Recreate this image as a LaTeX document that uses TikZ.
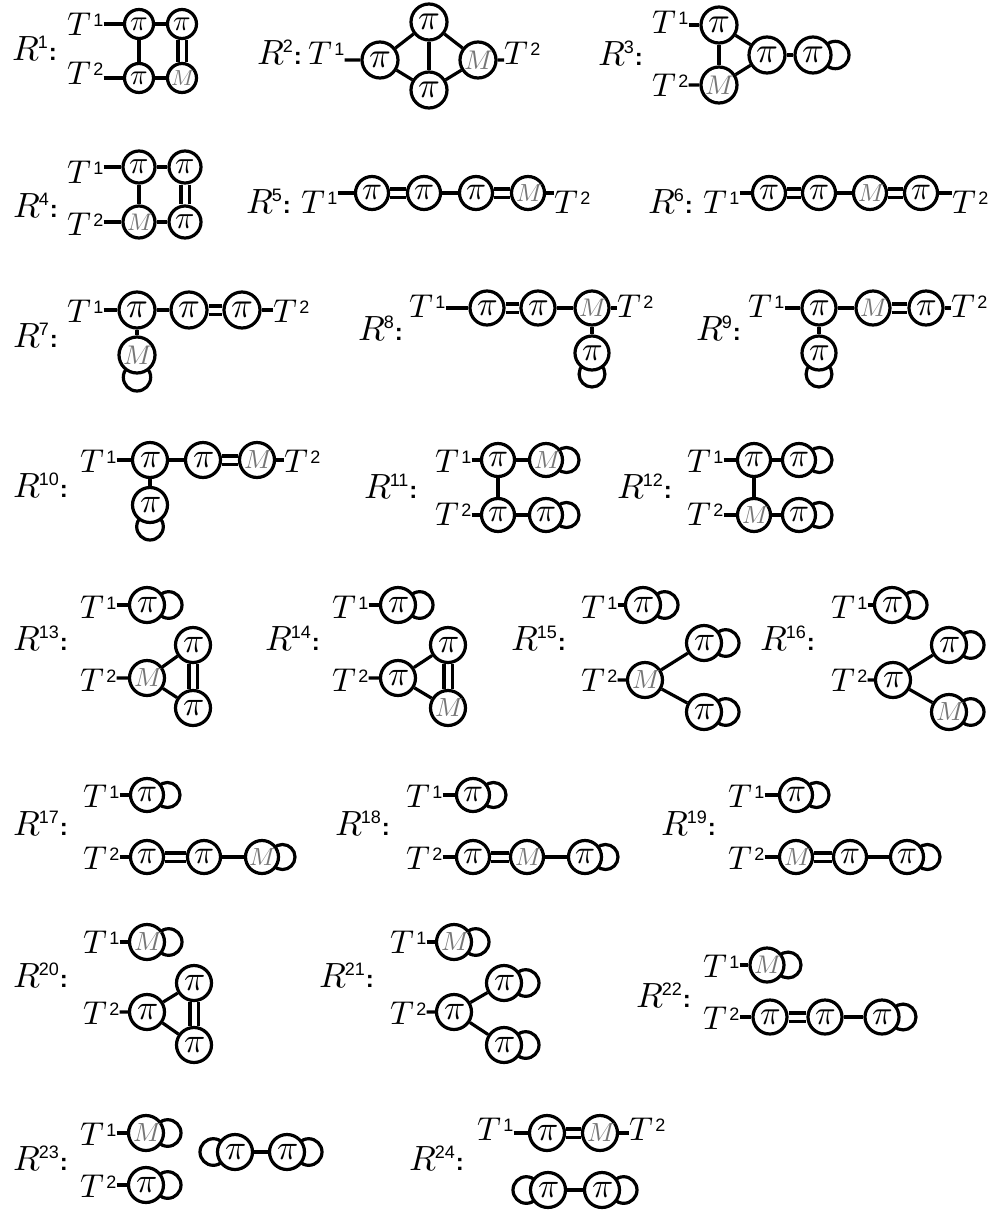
\documentclass[tikz,border=0pt]{standalone}
\usepackage{fontspec}
\setsansfont{Liberation Sans}
\newfontfamily\lmm{latinmodern-math.otf}
\usetikzlibrary{backgrounds}
\definecolor{mgray}{HTML}{767676}

\newcommand\rlab[1]{{\lmm 𝑅}\kern-1pt\raisebox{12pt}{\fontsize{18}{18}\sffamily #1}%
  \kern1pt{\fontsize{24}{24}\sffamily\bfseries :}}
\newcommand\tlab[1]{{\lmm 𝑇}\kern7pt\raisebox{9pt}{\fontsize{18}{18}\sffamily #1}}
\newcommand\ringR[1]{\draw[bond] (#1) ++(\molO,0) circle[radius=\molL pt];}
\newcommand\ringL[1]{\draw[bond] (#1) ++(-\molO,0) circle[radius=\molL pt];}
\newcommand\ringD[1]{\draw[bond] (#1) ++(0,\molO) circle[radius=\molL pt];}

\tikzset{
  sz/.code={\pgfmathsetmacro\molD{#1}\pgfmathsetmacro\molP{1.0*#1}%
    \pgfmathsetmacro\molM{0.75*#1}\pgfmathsetmacro\molO{0.62*#1}%
    \pgfmathsetmacro\molL{0.38*#1}},
  sz=34,
  mol/.style={circle, draw, line width=3.2pt, fill=white, inner sep=0pt,
    minimum size=\molD pt},
  pinode/.style={mol, font=\lmm\fontsize{\molP}{\molP}\selectfont},
  mnode/.style={mol, text=mgray, font=\lmm\fontsize{\molM}{\molM}\selectfont},
  bond/.style={line width=3.2pt},
  dbond/.style={line width=3.2pt, double, double distance=5pt},
  rl/.style={anchor=base west, inner sep=0pt, font=\fontsize{35}{35}\selectfont},
  tl/.style={anchor=base west, inner sep=0pt, font=\fontsize{33}{33}\selectfont},
}

\begin{document}
\begin{tikzpicture}[x=1pt, y=-1pt]
\useasboundingbox (0,0) rectangle (997,1211);

% R^1
\begin{scope}[sz=29, name prefix=r1-]
\node[rl] (r) at (12,60) {\rlab{1}};
\node[tl] (t1) at (67,35) {\tlab{1}};
\node[tl] (t2) at (67,84) {\tlab{2}};
\node[pinode] (a) at (139,24) {𝜋};
\node[pinode] (b) at (182,24) {𝜋};
\node[pinode] (c) at (139,78) {𝜋};
\node[mnode] (m) at (182,78) {𝑀};
\begin{scope}[on background layer]
\draw[bond] (t1.east |- a) -- (a) -- (b);
\draw[bond] (t2.east |- c) -- (c) -- (m);
\draw[bond] (a) -- (c);
\draw[dbond] (b) -- (m);
\end{scope}
\end{scope}

% R^2
\begin{scope}[sz=36, name prefix=r2-]
\node[rl] (r) at (257,64) {\rlab{2}};
\node[tl] (t1) at (308,64) {\tlab{1}};
\node[pinode] (a) at (380,60) {𝜋};
\node[pinode] (b) at (429,22) {𝜋};
\node[pinode] (c) at (429,90) {𝜋};
\node[mnode] (m) at (478,60) {𝑀};
\node[tl] (t2) at (504,64) {\tlab{2}};
\begin{scope}[on background layer]
\draw[bond] (t1.east |- a) -- (a) -- (b) -- (m) -- (t2.west |- m);
\draw[bond] (a) -- (c) -- (m);
\draw[bond] (b) -- (c);
\end{scope}
\end{scope}

% R^3
\begin{scope}[sz=36, name prefix=r3-]
\node[rl] (r) at (598,65) {\rlab{3}};
\node[tl] (t1) at (652,33) {\tlab{1}};
\node[tl] (t2) at (652,96) {\tlab{2}};
\node[pinode] (a) at (719,25) {𝜋};
\node[mnode] (m) at (719,85) {𝑀};
\node[pinode] (b) at (767,55) {𝜋};
\node[pinode] (c) at (813,55) {𝜋};
\begin{scope}[on background layer]
\draw[bond] (t1.east |- a) -- (a) -- (m);
\draw[bond] (t2.east |- m) -- (m) -- (b) -- (a);
\draw[bond] (b) -- (c);
\ringR{c}
\end{scope}
\end{scope}

% R^4
\begin{scope}[sz=32, name prefix=r4-]
\node[rl] (r) at (13,217) {\rlab{4}};
\node[tl] (t1) at (67,183) {\tlab{1}};
\node[tl] (t2) at (67,235) {\tlab{2}};
\node[pinode] (a) at (139,167) {𝜋};
\node[pinode] (b) at (185,167) {𝜋};
\node[mnode] (m) at (139,222) {𝑀};
\node[pinode] (c) at (185,222) {𝜋};
\begin{scope}[on background layer]
\draw[bond] (t1.east |- a) -- (a) -- (b);
\draw[bond] (t2.east |- m) -- (m) -- (c);
\draw[bond] (a) -- (m);
\draw[dbond] (b) -- (c);
\end{scope}
\end{scope}

% R^5
\begin{scope}[sz=33, name prefix=r5-]
\node[rl] (r) at (246,213) {\rlab{5}};
\node[tl] (t1) at (301,213) {\tlab{1}};
\node[pinode] (a) at (372,193) {𝜋};
\node[pinode] (b) at (424,193) {𝜋};
\node[pinode] (c) at (476,193) {𝜋};
\node[mnode] (m) at (528,193) {𝑀};
\node[tl] (t2) at (554,213) {\tlab{2}};
\begin{scope}[on background layer]
\draw[bond] (t1.east |- a) -- (a);
\draw[dbond] (a) -- (b);
\draw[bond] (b) -- (c);
\draw[dbond] (c) -- (m);
\draw[bond] (m) -- (t2.west |- m);
\end{scope}
\end{scope}

% R^6
\begin{scope}[sz=33, name prefix=r6-]
\node[rl] (r) at (648,213) {\rlab{6}};
\node[tl] (t1) at (703,213) {\tlab{1}};
\node[pinode] (a) at (769,193) {𝜋};
\node[pinode] (b) at (819,193) {𝜋};
\node[mnode] (m) at (870,193) {𝑀};
\node[pinode] (c) at (921,193) {𝜋};
\node[tl] (t2) at (952,213) {\tlab{2}};
\begin{scope}[on background layer]
\draw[bond] (t1.east |- a) -- (a);
\draw[dbond] (a) -- (b);
\draw[bond] (b) -- (m);
\draw[dbond] (m) -- (c);
\draw[bond] (c) -- (t2.west |- c);
\end{scope}
\end{scope}

% R^7
\begin{scope}[sz=36, name prefix=r7-]
\node[rl] (r) at (13,347) {\rlab{7}};
\node[tl] (t1) at (67,322) {\tlab{1}};
\node[pinode] (a) at (137,310) {𝜋};
\node[pinode] (b) at (189,310) {𝜋};
\node[pinode] (c) at (242,310) {𝜋};
\node[mnode] (m) at (137,355) {𝑀};
\node[tl] (t2) at (273,322) {\tlab{2}};
\begin{scope}[on background layer]
\draw[bond] (t1.east |- a) -- (a) -- (b);
\draw[dbond] (b) -- (c);
\draw[bond] (c) -- (t2.west |- c);
\draw[bond] (a) -- (m);
\ringD{m}
\end{scope}
\end{scope}

% R^8
\begin{scope}[sz=34, name prefix=r8-]
\node[rl] (r) at (358,340) {\rlab{8}};
\node[tl] (t1) at (409,317) {\tlab{1}};
\node[pinode] (a) at (487,308) {𝜋};
\node[pinode] (b) at (538,308) {𝜋};
\node[mnode] (m) at (592,308) {𝑀};
\node[pinode] (c) at (592,353) {𝜋};
\node[tl] (t2) at (617,317) {\tlab{2}};
\begin{scope}[on background layer]
\draw[bond] (t1.east |- a) -- (a);
\draw[dbond] (a) -- (b);
\draw[bond] (b) -- (m) -- (t2.west |- m);
\draw[bond] (m) -- (c);
\ringD{c}
\end{scope}
\end{scope}

% R^9
\begin{scope}[sz=34, name prefix=r9-]
\node[rl] (r) at (696,340) {\rlab{9}};
\node[tl] (t1) at (748,317) {\tlab{1}};
\node[pinode] (a) at (819,308) {𝜋};
\node[mnode] (m) at (873,308) {𝑀};
\node[pinode] (c) at (926,308) {𝜋};
\node[pinode] (p) at (819,353) {𝜋};
\node[tl] (t2) at (951,317) {\tlab{2}};
\begin{scope}[on background layer]
\draw[bond] (t1.east |- a) -- (a) -- (m);
\draw[dbond] (m) -- (c);
\draw[bond] (c) -- (t2.west |- c);
\draw[bond] (a) -- (p);
\ringD{p}
\end{scope}
\end{scope}

% R^10
\begin{scope}[sz=35, name prefix=r10-]
\node[rl] (r) at (13,497) {\rlab{10}};
\node[tl] (t1) at (80,472) {\tlab{1}};
\node[pinode] (a) at (150,460) {𝜋};
\node[pinode] (b) at (203,460) {𝜋};
\node[mnode] (m) at (257,460) {𝑀};
\node[pinode] (p) at (150,505) {𝜋};
\node[tl] (t2) at (284,472) {\tlab{2}};
\begin{scope}[on background layer]
\draw[bond] (t1.east |- a) -- (a) -- (b);
\draw[dbond] (b) -- (m);
\draw[bond] (m) -- (t2.west |- m);
\draw[bond] (a) -- (p);
\ringD{p}
\end{scope}
\end{scope}

% R^11
\begin{scope}[sz=33, name prefix=r11-]
\node[rl] (r) at (364,498) {\rlab{11}};
\node[tl] (t1) at (435,472) {\tlab{1}};
\node[tl] (t2) at (435,525) {\tlab{2}};
\node[pinode] (a) at (498,460) {𝜋};
\node[mnode] (m) at (546,460) {𝑀};
\node[pinode] (c) at (498,515) {𝜋};
\node[pinode] (d) at (546,515) {𝜋};
\begin{scope}[on background layer]
\draw[bond] (t1.east |- a) -- (a) -- (m);
\draw[bond] (t2.east |- c) -- (c) -- (d);
\draw[bond] (a) -- (c);
\ringR{m}
\ringR{d}
\end{scope}
\end{scope}

% R^12
\begin{scope}[sz=33, name prefix=r12-]
\node[rl] (r) at (617,498) {\rlab{12}};
\node[tl] (t1) at (687,472) {\tlab{1}};
\node[tl] (t2) at (687,525) {\tlab{2}};
\node[pinode] (a) at (754,460) {𝜋};
\node[pinode] (b) at (799,460) {𝜋};
\node[mnode] (m) at (754,515) {𝑀};
\node[pinode] (c) at (799,515) {𝜋};
\begin{scope}[on background layer]
\draw[bond] (t1.east |- a) -- (a) -- (b);
\draw[bond] (t2.east |- m) -- (m) -- (c);
\draw[bond] (a) -- (m);
\ringR{b}
\ringR{c}
\end{scope}
\end{scope}

% R^13
\begin{scope}[sz=35, name prefix=r13-]
\node[rl] (r) at (13,650) {\rlab{13}};
\node[tl] (t1) at (80,618) {\tlab{1}};
\node[tl] (t2) at (80,691) {\tlab{2}};
\node[pinode] (a) at (147,605) {𝜋};
\node[mnode] (m) at (147,678) {𝑀};
\node[pinode] (p) at (193,645) {𝜋};
\node[pinode] (q) at (193,708) {𝜋};
\begin{scope}[on background layer]
\draw[bond] (t1.east |- a) -- (a);
\draw[bond] (t2.east |- m) -- (m) -- (p);
\draw[bond] (m) -- (q);
\draw[dbond] (p) -- (q);
\ringR{a}
\end{scope}
\end{scope}

% R^14
\begin{scope}[sz=35, name prefix=r14-]
\node[rl] (r) at (265,650) {\rlab{14}};
\node[tl] (t1) at (332,618) {\tlab{1}};
\node[tl] (t2) at (332,691) {\tlab{2}};
\node[pinode] (a) at (398,605) {𝜋};
\node[pinode] (c) at (398,678) {𝜋};
\node[pinode] (p) at (448,645) {𝜋};
\node[mnode] (m) at (448,708) {𝑀};
\begin{scope}[on background layer]
\draw[bond] (t1.east |- a) -- (a);
\draw[bond] (t2.east |- c) -- (c) -- (p);
\draw[bond] (c) -- (m);
\draw[dbond] (p) -- (m);
\ringR{a}
\end{scope}
\end{scope}

% R^15
\begin{scope}[sz=35, name prefix=r15-]
\node[rl] (r) at (511,650) {\rlab{15}};
\node[tl] (t1) at (581,618) {\tlab{1}};
\node[tl] (t2) at (581,691) {\tlab{2}};
\node[pinode] (a) at (643,605) {𝜋};
\node[mnode] (m) at (645,680) {𝑀};
\node[pinode] (p) at (704,643) {𝜋};
\node[pinode] (q) at (704,712) {𝜋};
\begin{scope}[on background layer]
\draw[bond] (t1.east |- a) -- (a);
\draw[bond] (t2.east |- m) -- (m) -- (p);
\draw[bond] (m) -- (q);
\ringR{a}
\ringR{p}
\ringR{q}
\end{scope}
\end{scope}

% R^16
\begin{scope}[sz=35, name prefix=r16-]
\node[rl] (r) at (760,650) {\rlab{16}};
\node[tl] (t1) at (831,618) {\tlab{1}};
\node[tl] (t2) at (831,691) {\tlab{2}};
\node[pinode] (a) at (892,605) {𝜋};
\node[pinode] (c) at (893,680) {𝜋};
\node[pinode] (p) at (949,645) {𝜋};
\node[mnode] (m) at (949,712) {𝑀};
\begin{scope}[on background layer]
\draw[bond] (t1.east |- a) -- (a);
\draw[bond] (t2.east |- c) -- (c) -- (p);
\draw[bond] (c) -- (m);
\ringR{a}
\ringR{p}
\ringR{m}
\end{scope}
\end{scope}

% R^17
\begin{scope}[sz=33, name prefix=r17-]
\node[rl] (r) at (13,835) {\rlab{17}};
\node[tl] (t1) at (83,807) {\tlab{1}};
\node[tl] (t2) at (83,869) {\tlab{2}};
\node[pinode] (a) at (147,795) {𝜋};
\node[pinode] (b) at (147,857) {𝜋};
\node[pinode] (c) at (204,857) {𝜋};
\node[mnode] (m) at (262,857) {𝑀};
\begin{scope}[on background layer]
\draw[bond] (t1.east |- a) -- (a);
\draw[bond] (t2.east |- b) -- (b);
\draw[dbond] (b) -- (c);
\draw[bond] (c) -- (m);
\ringR{a}
\ringR{m}
\end{scope}
\end{scope}

% R^18
\begin{scope}[sz=33, name prefix=r18-]
\node[rl] (r) at (335,835) {\rlab{18}};
\node[tl] (t1) at (406,807) {\tlab{1}};
\node[tl] (t2) at (406,869) {\tlab{2}};
\node[pinode] (a) at (473,795) {𝜋};
\node[pinode] (b) at (473,857) {𝜋};
\node[mnode] (m) at (527,857) {𝑀};
\node[pinode] (c) at (585,857) {𝜋};
\begin{scope}[on background layer]
\draw[bond] (t1.east |- a) -- (a);
\draw[bond] (t2.east |- b) -- (b);
\draw[dbond] (b) -- (m);
\draw[bond] (m) -- (c);
\ringR{a}
\ringR{c}
\end{scope}
\end{scope}

% R^19
\begin{scope}[sz=33, name prefix=r19-]
\node[rl] (r) at (661,835) {\rlab{19}};
\node[tl] (t1) at (728,807) {\tlab{1}};
\node[tl] (t2) at (728,869) {\tlab{2}};
\node[pinode] (a) at (796,795) {𝜋};
\node[mnode] (m) at (796,857) {𝑀};
\node[pinode] (b) at (850,857) {𝜋};
\node[pinode] (c) at (907,857) {𝜋};
\begin{scope}[on background layer]
\draw[bond] (t1.east |- a) -- (a);
\draw[bond] (t2.east |- m) -- (m);
\draw[dbond] (m) -- (b);
\draw[bond] (b) -- (c);
\ringR{a}
\ringR{c}
\end{scope}
\end{scope}

% R^20
\begin{scope}[sz=35, name prefix=r20-]
\node[rl] (r) at (13,987) {\rlab{20}};
\node[tl] (t1) at (83,953) {\tlab{1}};
\node[tl] (t2) at (83,1024) {\tlab{2}};
\node[mnode] (m) at (147,942) {𝑀};
\node[pinode] (c) at (147,1012) {𝜋};
\node[pinode] (p) at (194,983) {𝜋};
\node[pinode] (q) at (194,1045) {𝜋};
\begin{scope}[on background layer]
\draw[bond] (t1.east |- m) -- (m);
\draw[bond] (t2.east |- c) -- (c) -- (p);
\draw[bond] (c) -- (q);
\draw[dbond] (p) -- (q);
\ringR{m}
\end{scope}
\end{scope}

% R^21
\begin{scope}[sz=35, name prefix=r21-]
\node[rl] (r) at (319,987) {\rlab{21}};
\node[tl] (t1) at (390,953) {\tlab{1}};
\node[tl] (t2) at (390,1024) {\tlab{2}};
\node[mnode] (m) at (454,942) {𝑀};
\node[pinode] (c) at (454,1012) {𝜋};
\node[pinode] (p) at (504,983) {𝜋};
\node[pinode] (q) at (504,1045) {𝜋};
\begin{scope}[on background layer]
\draw[bond] (t1.east |- m) -- (m);
\draw[bond] (t2.east |- c) -- (c) -- (p);
\draw[bond] (c) -- (q);
\ringR{m}
\ringR{p}
\ringR{q}
\end{scope}
\end{scope}

% R^22
\begin{scope}[sz=34, name prefix=r22-]
\node[rl] (r) at (636,1007) {\rlab{22}};
\node[tl] (t1) at (703,977) {\tlab{1}};
\node[tl] (t2) at (703,1029) {\tlab{2}};
\node[mnode] (m) at (767,965) {𝑀};
\node[pinode] (a) at (770,1017) {𝜋};
\node[pinode] (b) at (825,1017) {𝜋};
\node[pinode] (c) at (882,1017) {𝜋};
\begin{scope}[on background layer]
\draw[bond] (t1.east |- m) -- (m);
\draw[bond] (t2.east |- a) -- (a);
\draw[dbond] (a) -- (b);
\draw[bond] (b) -- (c);
\ringR{m}
\ringR{c}
\end{scope}
\end{scope}

% R^23
\begin{scope}[sz=35, name prefix=r23-]
\node[rl] (r) at (13,1170) {\rlab{23}};
\node[tl] (t1) at (80,1145) {\tlab{1}};
\node[tl] (t2) at (80,1197) {\tlab{2}};
\node[mnode] (m) at (146,1133) {𝑀};
\node[pinode] (c) at (146,1185) {𝜋};
\node[pinode] (p) at (235,1152) {𝜋};
\node[pinode] (q) at (287,1152) {𝜋};
\begin{scope}[on background layer]
\draw[bond] (t1.east |- m) -- (m);
\draw[bond] (t2.east |- c) -- (c);
\draw[bond] (p) -- (q);
\ringR{m}
\ringR{c}
\ringL{p}
\ringR{q}
\end{scope}
\end{scope}

% R^24
\begin{scope}[sz=35, name prefix=r24-]
\node[rl] (r) at (409,1170) {\rlab{24}};
\node[tl] (t1) at (477,1140) {\tlab{1}};
\node[pinode] (a) at (547,1133) {𝜋};
\node[mnode] (m) at (600,1133) {𝑀};
\node[tl] (t2) at (629,1140) {\tlab{2}};
\node[pinode] (b) at (548,1190) {𝜋};
\node[pinode] (c) at (602,1190) {𝜋};
\begin{scope}[on background layer]
\draw[bond] (t1.east |- a) -- (a);
\draw[dbond] (a) -- (m);
\draw[bond] (m) -- (t2.west |- m);
\draw[bond] (b) -- (c);
\ringL{b}
\ringR{c}
\end{scope}
\end{scope}
\end{tikzpicture}
\end{document}
